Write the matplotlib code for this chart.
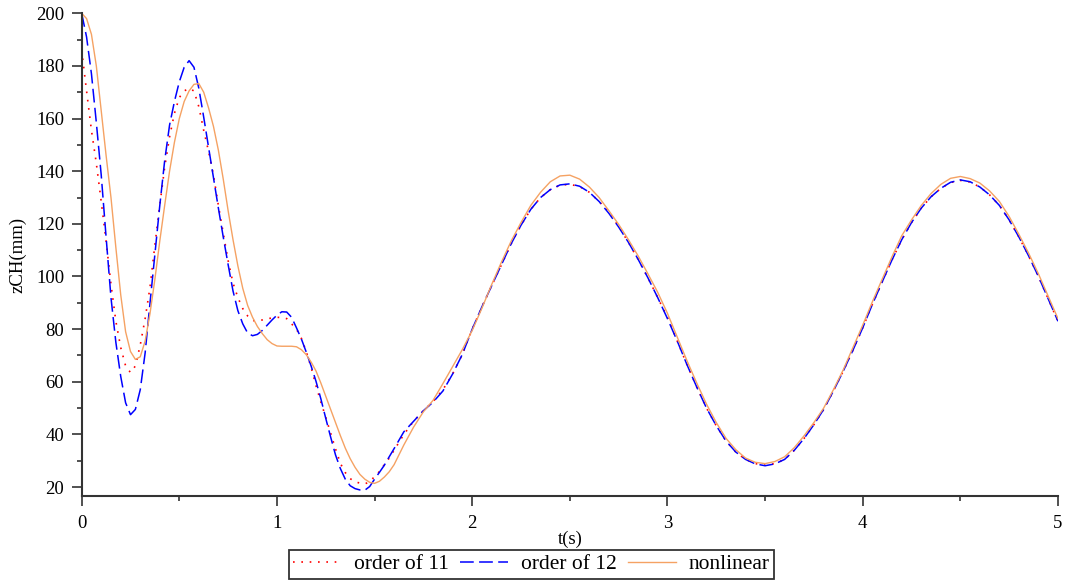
import numpy as np
import matplotlib
matplotlib.use("Agg")
import matplotlib.pyplot as plt
from matplotlib.ticker import MultipleLocator

plt.rcParams['font.family'] = ['Liberation Serif', 'DejaVu Serif']

# time grid (s): 0.025 steps up to 1.6, then 0.05 steps up to 5
t_early = np.linspace(0.0, 1.6, 65)
t_late = np.linspace(1.65, 5.0, 68)
t = np.concatenate([t_early, t_late])

# zCH (mm)
order11_early = [186, 170.5, 155.5, 143, 128.5, 113.5, 97, 83, 73, 66,
                 63.5, 66, 74, 84, 96, 112, 127, 141.5, 153, 162,
                 168, 170.5, 171.5, 170.5, 164.5, 155.5, 147.5, 138.5, 127, 116.5,
                 106, 97.5, 92, 87.8, 85, 83.3, 83, 83.5, 84, 84.2,
                 84.5, 84.4, 84, 82, 80, 76.5, 71.5, 65.5, 58.5, 52.3,
                 46.5, 40.5, 34.5, 29, 25.5, 23.2, 22, 21.5, 21.2, 22,
                 24, 25.9, 28.5, 31, 34]
order11_late = [40, 45, 49, 52.5, 57, 63, 70.5, 80, 88.5, 96.5,
                104.5, 112.5, 119.5, 125.5, 130, 133, 134.7, 135, 134.2, 132,
                128.5, 124.5, 119, 113, 106.5, 99.5, 92, 84.5, 75.5, 66.5,
                58, 50, 43.3, 37.5, 33.3, 30.5, 28.9, 28.3, 28.9, 30.5,
                34, 38.5, 43.7, 49.5, 56.5, 64, 72, 80.5, 89.5, 98,
                106.3, 114, 120.5, 126, 130.3, 133.5, 135.7, 136.5, 135.9, 134,
                131, 127, 121.5, 115, 107.8, 100, 91.5, 83]

order12_early = [200, 191, 177, 158.5, 138.6, 115, 92, 75, 62, 52,
                 47.5, 49.5, 57, 71, 90, 108.5, 127, 144, 157.5, 166.5,
                 174, 179.5, 182, 179.5, 171.5, 160.5, 149, 137.5, 126, 115,
                 104.5, 94.5, 87, 82, 78.5, 77.5, 78, 79.5, 81.5, 83.5,
                 85.3, 86.6, 86.5, 84.5, 80.5, 76.3, 71.3, 66, 60.2, 53.5,
                 46.1, 39, 32.2, 27, 23, 20.5, 19.4, 18.9, 18.8, 20.2,
                 23, 25.6, 28.3, 31.5, 34.6]
order12_late = [41, 45, 49, 52.3, 56.5, 63, 70.5, 80, 88.5, 96.5,
                104.5, 112.5, 119.5, 125.5, 130, 133, 134.8, 135.2, 134.3, 132,
                128.5, 124, 118.8, 113, 106.5, 99.5, 92, 84, 75.5, 66.5,
                58, 50, 43.3, 37.5, 33.3, 30.5, 28.8, 28.1, 28.8, 30.5,
                34, 38.5, 43.7, 49.5, 56.5, 64, 72, 80.5, 89.5, 98,
                106.3, 114, 120.5, 126, 130.3, 133.5, 135.8, 136.7, 136, 134,
                131, 127, 121.5, 115, 107.8, 100, 91.5, 83]

nonlinear_early = [200, 198, 192, 180, 163, 146, 130, 111, 93, 79,
                   71.5, 68.5, 69.5, 75.5, 86, 99, 113.5, 127, 140, 151,
                   160, 166.5, 170.5, 173, 173.3, 170, 164, 157, 148, 137,
                   125, 114, 104, 95.5, 89, 84.5, 81, 78.3, 76, 74.5,
                   73.6, 73.5, 73.5, 73.5, 73.3, 72.2, 70.3, 67.5, 64.1, 59.5,
                   54.5, 49.5, 44.5, 39.5, 34.8, 30.8, 27.5, 24.8, 23, 21.8,
                   21.4, 22.2, 23.8, 25.8, 28.5]
nonlinear_late = [36, 42.8, 48.6, 53, 59.3, 65.8, 72.3, 79.5, 88, 97,
                  105.5, 113.5, 120.5, 127, 132, 136, 138.2, 138.5, 137, 134,
                  130, 125, 119.8, 114, 107.8, 101, 94, 86, 77, 68,
                  59.5, 51.5, 44.5, 38.5, 34.2, 31, 29.4, 28.9, 29.7, 31.5,
                  35, 39.5, 44.5, 50, 57, 64.5, 73, 81.5, 90.5, 99,
                  107.5, 115.5, 121.5, 127, 131.5, 135, 137.3, 138, 137.2, 135.5,
                  132.5, 128.5, 122.8, 116, 108.8, 101, 92.5, 84]

order11 = order11_early + order11_late
order12 = order12_early + order12_late
nonlinear = nonlinear_early + nonlinear_late

fig = plt.figure(figsize=(10.65, 5.81), dpi=100)
ax = fig.add_axes([0.0767, 0.1463, 0.9167, 0.8308])

ax.plot(t, order11, color='#ff0000', lw=1.2, linestyle=(0, (1, 4)), label='order of 11')
ax.plot(t, order12, color='#0000ff', lw=1.1, linestyle=(0, (9, 3.5)), label='order of 12')
ax.plot(t, nonlinear, color='#f5a263', lw=1.0, label='nonlinear')

ax.set_xlim(0, 5)
ax.set_ylim(16.6, 200)
for s in ['top', 'right']:
    ax.spines[s].set_visible(False)
for s in ['left', 'bottom']:
    ax.spines[s].set_linewidth(1.5)
    ax.spines[s].set_color('#333333')

ax.xaxis.set_major_locator(MultipleLocator(1))
ax.xaxis.set_minor_locator(MultipleLocator(0.5))
ax.yaxis.set_major_locator(MultipleLocator(20))
ax.yaxis.set_minor_locator(MultipleLocator(10))
ax.set_yticks(np.arange(20, 201, 20))
ax.tick_params(which='major', length=7.5, width=1.2, color='#333333', labelsize=13.5)
ax.tick_params(which='minor', length=3.8, width=1.2, color='#333333')
ax.tick_params(axis='y', which='major', pad=5)
ax.tick_params(axis='x', which='major', pad=6)

ax.set_xlabel('t(s)', fontsize=13.5)
ax.xaxis.set_label_coords(0.5, -0.0715)
ax.set_ylabel('zCH(mm)', fontsize=13.5)
ax.yaxis.set_label_coords(-0.057, 0.5)

leg = fig.legend(loc='center', bbox_to_anchor=(0.499, 0.0287), ncol=3,
                 fontsize=15.5, frameon=True, fancybox=False,
                 handlelength=2.2, handletextpad=0.6, columnspacing=0.55,
                 borderpad=0.2, borderaxespad=0)
leg.get_frame().set_edgecolor('black')
leg.get_frame().set_linewidth(1.3)

fig.savefig('out.png', dpi=100)
